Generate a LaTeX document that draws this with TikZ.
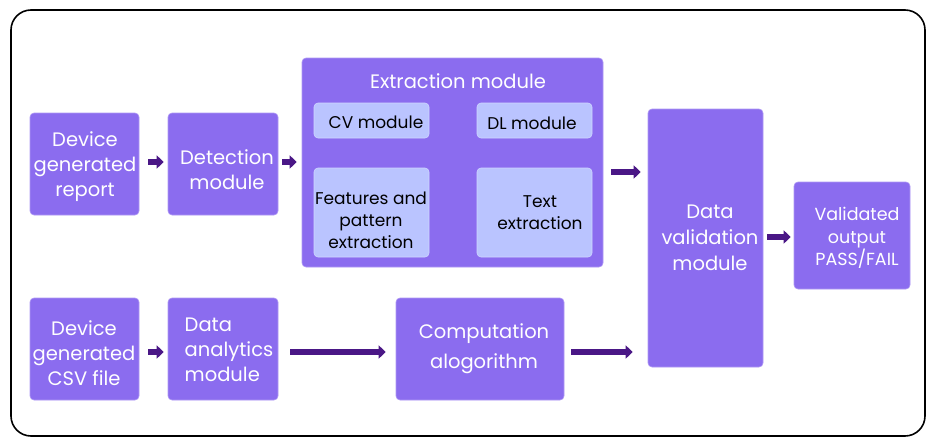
\documentclass[tikz,border=0pt]{standalone}
\usepackage{fontspec}
\setmainfont{Poppins}
\usetikzlibrary{arrows.meta}
\definecolor{boxpurple}{HTML}{8B6CEF}
\definecolor{boxlight}{HTML}{BAC4FF}
\definecolor{arrowpurple}{HTML}{4A1786}
\tikzset{
  box/.style={rectangle, rounded corners=4pt, fill=boxpurple, draw=boxpurple!70!white, line width=0.6pt, inner sep=0pt},
  subbox/.style={rectangle, rounded corners=4pt, fill=boxlight, draw=boxlight!70!white, line width=0.6pt, inner sep=0pt},
  boxtext/.style={text=white, align=center, font=\fontsize{19.5}{25}\selectfont, inner sep=0pt},
  subtext/.style={text=black, align=center, font=\fontsize{17}{22}\selectfont, inner sep=0pt},
  arr/.style={draw=arrowpurple, line width=6pt, -{Triangle[length=7pt,width=13pt]}, arrowpurple}
}
\begin{document}
\begin{tikzpicture}[x=1pt,y=-1pt]
\useasboundingbox (0,0) rectangle (933,436);
% outer frame
\draw[line width=1.6pt, rounded corners=20pt] (11,10) rectangle (925,436);

% upper row
\node[box, minimum width=109pt, minimum height=102pt] (report) at (84.5,164) {};
\node[boxtext] (reporttext) at (85,167) {Device\\generated\\report};
\node[box, minimum width=110pt, minimum height=102pt] (detect) at (223,164) {};
\node[boxtext] (detecttext) at (227,169.5) {Detection\\module};

% extraction module with its four parts
\node[box, minimum width=301pt, minimum height=209pt] (extract) at (452.5,162.5) {};
\node[boxtext] (extitle) at (458,81) {Extraction module};
\node[subbox, minimum width=115pt, minimum height=35pt] (cv) at (371.5,120.5) {};
\node[subtext] (cvtext) at (376,122) {CV module};
\node[subbox, minimum width=115pt, minimum height=35pt] (dl) at (534.5,120.5) {};
\node[subtext] (dltext) at (532,123) {DL module};
\node[subbox, minimum width=115pt, minimum height=89pt] (feat) at (371.5,212.5) {};
\node[subtext] (feattext) at (371,220) {Features and\\pattern\\extraction};
\node[subbox, minimum width=115pt, minimum height=89pt] (textex) at (534.5,212.5) {};
\node[subtext] (textextext) at (540,213) {Text\\extraction};

% validation and output
\node[box, minimum width=115pt, minimum height=258pt] (valid) at (705.5,238) {};
\node[boxtext, font=\fontsize{19.5}{26}\selectfont] (validtext) at (710,238) {Data\\validation\\module};
\node[box, minimum width=116pt, minimum height=107pt] (output) at (852,235.5) {};
\node[boxtext, font=\fontsize{17.5}{22.5}\selectfont] (outputtext) at (857,238) {Validated\\output\\PASS/FAIL};

% lower row
\node[box, minimum width=109pt, minimum height=102pt] (csv) at (84.5,349) {};
\node[boxtext] (csvtext) at (84,353) {Device\\generated\\CSV file};
\node[box, minimum width=110pt, minimum height=102pt] (analytics) at (223,349) {};
\node[boxtext, align=left] (antext) at (229,350) {Data\\analytics\\module};
\node[box, minimum width=168pt, minimum height=102pt] (comp) at (480,349) {};
\node[boxtext, font=\fontsize{19.5}{30}\selectfont] (comptext) at (484,349) {Computation\\alogorithm};

% connectors
\draw[arr, shorten <=9pt, shorten >=4pt] (report.east |- 0,162) -- (detect.west |- 0,162);
\draw[arr, shorten <=4pt, shorten >=5pt] (detect.east |- 0,162) -- (extract.west |- 0,162);
\draw[arr, shorten <=8pt, shorten >=7pt] (extract.east |- 0,172) -- (valid.west |- 0,172);
\draw[arr, shorten <=4pt, shorten >=3pt] (valid.east |- 0,237) -- (output.west |- 0,237);
\draw[arr, shorten <=9pt, shorten >=4pt] (csv.east |- 0,352) -- (analytics.west |- 0,352);
\draw[arr, shorten <=12pt, shorten >=10pt] (analytics.east |- 0,352) -- (comp.west |- 0,352);
\draw[arr, shorten <=7pt, shorten >=15pt] (comp.east |- 0,352) -- (valid.west |- 0,352);
\end{tikzpicture}
\end{document}
